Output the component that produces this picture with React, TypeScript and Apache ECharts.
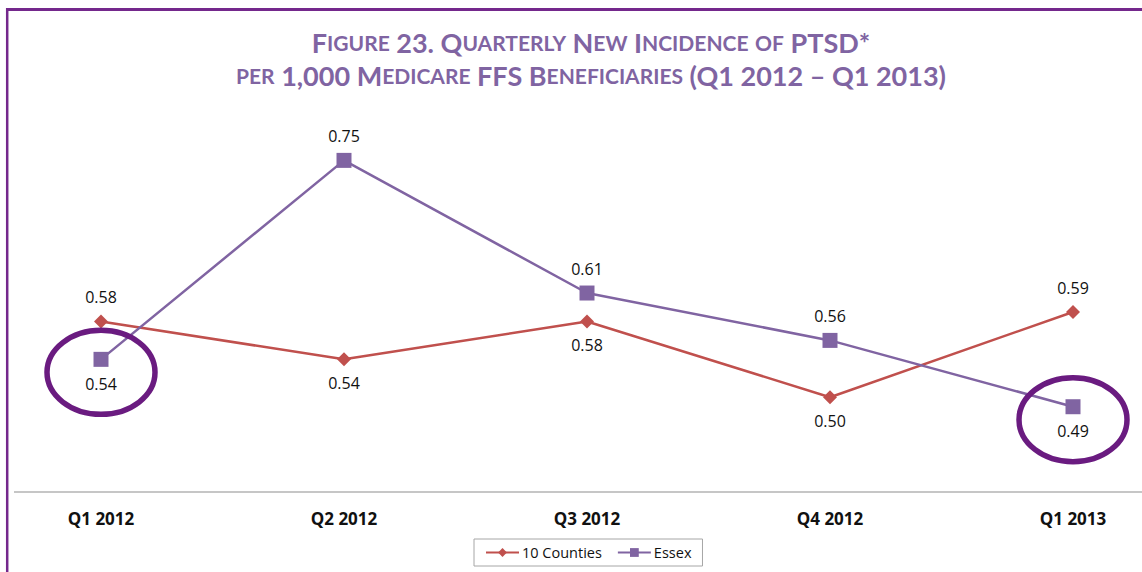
import React, { useEffect, useRef } from "react";
import * as echarts from "echarts";

const categories = ["Q1 2012", "Q2 2012", "Q3 2012", "Q4 2012", "Q1 2013"];
const tenCounties = [0.58, 0.54, 0.58, 0.5, 0.59];
const essex = [0.54, 0.75, 0.61, 0.56, 0.49];
const tenCountiesLabelPos = ["top", "bottom", "bottom", "bottom", "top"];
const essexLabelPos = ["bottom", "top", "top", "top", "bottom"];
const circledEssex = [0, 4];
const titleLine1 = "Figure 23. Quarterly New Incidence of PTSD*";
const titleLine2 = "per 1,000 Medicare FFS Beneficiaries (Q1 2012 – Q1 2013)";

const FONT = "'Open Sans', 'Noto Sans', sans-serif";
const TITLE_FONT = "Lato, 'Noto Sans', sans-serif";
const RED = "#C0504D";
const PURPLE = "#8064A2";
const FRAME = "#74288C";
const CIRCLE = "#6A1B80";

function smallCaps(text: string): string {
  let out = "";
  let cur = "";
  let curType = "";
  const flush = () => {
    if (cur) out += `{${curType}|${cur}}`;
    cur = "";
  };
  for (const ch of text) {
    const isLower = ch !== ch.toUpperCase();
    const t = isLower ? "s" : "b";
    if (t !== curType) {
      flush();
      curType = t;
    }
    cur += ch.toUpperCase();
  }
  flush();
  return out;
}

export default function App() {
  const ref = useRef<HTMLDivElement>(null);
  useEffect(() => {
    document.body.style.margin = "0";
    if (!ref.current) return;
    const chart = echarts.init(ref.current, null, { renderer: "svg" });
    const labelStyle = {
      show: true,
      fontFamily: FONT,
      fontSize: 16,
      color: "#111",
      distance: 9,
      formatter: (p: any) => Number(p.value).toFixed(2),
    };
    chart.setOption({
      animation: false,
      backgroundColor: "#fff",
      title: {
        text: smallCaps(titleLine1) + "\n" + smallCaps(titleLine2),
        left: 586,
        textAlign: "center",
        top: 21,
        textStyle: {
          rich: {
            b: { fontFamily: TITLE_FONT, fontWeight: "bold", fontSize: 27, color: PURPLE, lineHeight: 33 },
            s: { fontFamily: TITLE_FONT, fontWeight: "bold", fontSize: 21, color: PURPLE, lineHeight: 33 },
          },
        },
      },
      legend: {
        data: ["10 Counties", "Essex"],
        left: 474,
        top: 539,
        borderColor: "#a6a6a6",
        borderWidth: 1,
        padding: [6, 11],
        itemWidth: 33,
        itemHeight: 11,
        itemGap: 15,
        textStyle: { fontFamily: FONT, fontSize: 14.5, color: "#111", padding: [0, 0, 0, -2] },
      },
      grid: { left: 101, right: 69, top: 113, bottom: 80 },
      xAxis: {
        type: "category",
        data: categories,
        boundaryGap: false,
        axisLine: { show: false },
        axisTick: { show: false },
        axisLabel: { fontFamily: FONT, fontWeight: "bold", fontSize: 17, color: "#111", margin: 18 },
        splitLine: { show: false },
      },
      yAxis: { type: "value", min: 0.4, max: 0.8, show: false, splitLine: { show: false } },
      series: [
        {
          name: "10 Counties",
          type: "line",
          data: tenCounties.map((v, i) => ({ value: v, label: { position: tenCountiesLabelPos[i] } })),
          symbol: "diamond",
          symbolSize: 14,
          lineStyle: { color: RED, width: 2.5 },
          itemStyle: { color: RED },
          label: labelStyle,
        },
        {
          name: "Essex",
          type: "line",
          data: essex.map((v, i) => ({ value: v, label: { position: essexLabelPos[i] } })),
          symbol: "rect",
          symbolSize: 15,
          lineStyle: { color: PURPLE, width: 2.5 },
          itemStyle: { color: PURPLE },
          label: labelStyle,
        },
      ],
    });

    const ellipses = circledEssex.map((i) => {
      const p = chart.convertToPixel({ gridIndex: 0 }, [i, essex[i]]) as number[];
      return {
        type: "ellipse",
        shape: { cx: p[0], cy: p[1] + 13, rx: 54, ry: 42 },
        style: { fill: "none", stroke: CIRCLE, lineWidth: 5.5 },
        z: 100,
      };
    });
    const axisY = chart.convertToPixel({ gridIndex: 0 }, [0, 0.4]) as number[];

    chart.setOption({
      graphic: [
        { type: "line", shape: { x1: 6, y1: 9.5, x2: 1142, y2: 9.5 }, style: { stroke: FRAME, lineWidth: 3 }, z: 100 },
        { type: "line", shape: { x1: 7.2, y1: 8, x2: 7.2, y2: 572 }, style: { stroke: FRAME, lineWidth: 2.5 }, z: 100 },
        { type: "line", shape: { x1: 14, y1: axisY[1], x2: 1142, y2: axisY[1] }, style: { stroke: "#b3b3b3", lineWidth: 1.5 }, z: 0 },
        ...ellipses,
      ],
    });
    return () => chart.dispose();
  }, []);
  return <div ref={ref} style={{ width: 1142, height: 572 }} />;
}
